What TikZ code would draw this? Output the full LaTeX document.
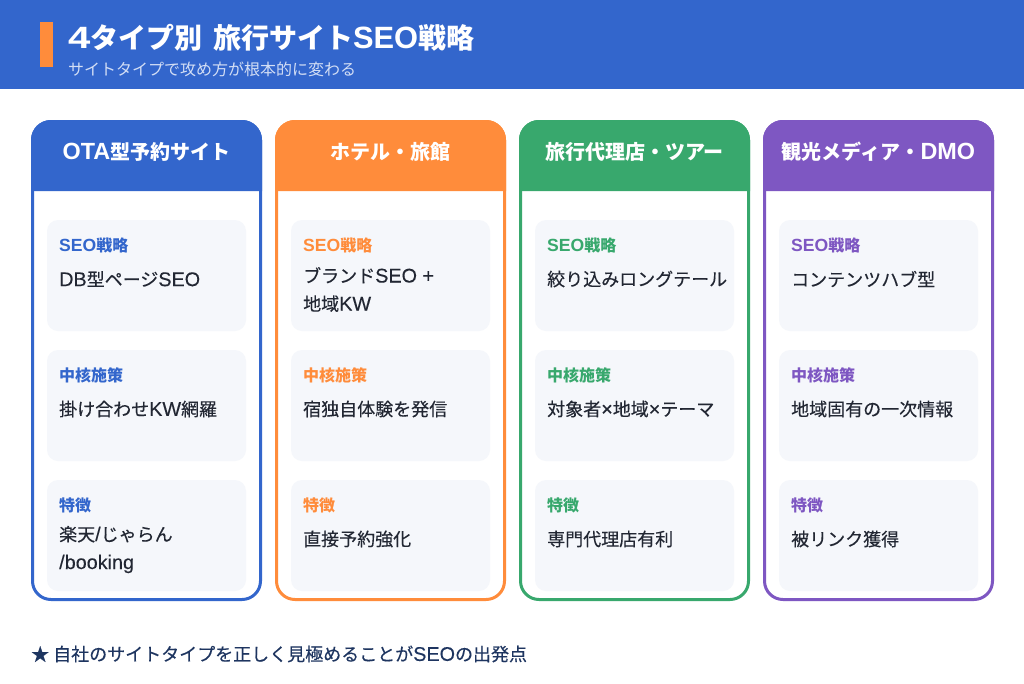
\documentclass[tikz,border=0pt]{standalone}
\usepackage{fontspec}
\setmainfont{Noto Sans CJK JP}
\newfontfamily\lat[Scale=1.1]{Liberation Sans}
\newfontfamily\widelat[Scale=1.1,FakeStretch=1.3]{Liberation Sans}
\newfontfamily\cardlat[Scale=1.17]{Liberation Sans}
\newfontfamily\medcjk[FakeBold=0.3]{Noto Sans CJK JP}
\newfontfamily\medlat[Scale=1.1,FakeBold=0.2]{Liberation Sans}
\definecolor{cblue}{HTML}{3366CC}
\definecolor{corange}{HTML}{FF8C3B}
\definecolor{cgreen}{HTML}{38A86D}
\definecolor{cpurple}{HTML}{7E57C2}
\definecolor{cbox}{HTML}{F5F7FB}
\definecolor{cink}{HTML}{222733}
\definecolor{cnavy}{HTML}{1E3560}
\definecolor{csub}{HTML}{D3DEF5}
\tikzset{
  maintitle/.style = {anchor=west,inner sep=0,text=white,font=\fontsize{28}{34}\selectfont\bfseries},
  subtitle/.style = {anchor=west,inner sep=0,text=csub,font=\fontsize{16}{20}\selectfont},
  cardtitle/.style = {inner sep=0,text=white,font=\fontsize{20}{24}\selectfont\bfseries\let\lat\cardlat},
  celllabel/.style = {anchor=west,inner sep=0,font=\fontsize{16}{20}\selectfont\bfseries},
  cellvalue/.style = {anchor=west,inner sep=0,align=left,text=cink,font=\fontsize{18}{28}\selectfont\medcjk\let\lat\medlat},
  footnote/.style = {anchor=west,inner sep=0,text=cnavy,font=\fontsize{18}{22}\selectfont\medcjk\let\lat\medlat}
}
\newcommand{\la}[1]{{\lat #1}}
% card: name, left edge, colour, title
\newcommand{\card}[4]{
  \draw[#3,fill=white,line width=3pt,rounded corners=18.5] (#2+1.5,121.5) rectangle (#2+229.5,599.5);
  \fill[#3] (#2,191) [rounded corners=20] -- (#2,120) -- (#2+231,120) [sharp corners] -- (#2+231,191) -- cycle;
  \node[cardtitle] (#1) at (#2+115.5,152) {#4};
}
% cell: name, left edge of card, top, colour, label, offset of value, value
\newcommand{\cell}[7]{
  \fill[cbox,rounded corners=11] (#2+16,#3) rectangle (#2+215,#3+111);
  \node[celllabel,text=#4] (#1a) at (#2+28,#3+25) {#5};
  \node[cellvalue] (#1b) at (#2+28,#3+#6) {#7};
}

\begin{document}
\begin{tikzpicture}[x=1pt,y=-1pt]
  \useasboundingbox (0,0) rectangle (1024,683);
  \fill[white] (0,0) rectangle (1024,683);
  \fill[cblue] (0,0) rectangle (1024,89);
  \fill[corange] (40,22) rectangle (53,67);
  \node[maintitle] (title) at (68,38) {{\widelat 4}タイプ別\la{ }\kern2pt 旅行サイト\la{SEO}戦略};
  \node[subtitle] (sub) at (68,69) {サイトタイプで攻め方が根本的に変わる};

  \card{ota}{31}{cblue}{\la{OTA}型予約サイト}
  \cell{otaa}{31}{220}{cblue}{\la{SEO}戦略}{59}{\la{DB}型ページ\la{SEO}}
  \cell{otab}{31}{350}{cblue}{中核施策}{59}{掛け合わせ\la{KW}網羅}
  \cell{otac}{31}{480}{cblue}{特徴}{69.5}{楽天\la{/}じゃらん\\\la{/booking}}

  \card{hotel}{275}{corange}{ホテル・旅館}
  \cell{hotela}{275}{220}{corange}{\la{SEO}戦略}{69.5}{ブランド\la{SEO +}\\地域\la{KW}}
  \cell{hotelb}{275}{350}{corange}{中核施策}{59}{宿独自体験を発信}
  \cell{hotelc}{275}{480}{corange}{特徴}{59}{直接予約強化}

  \card{agency}{519}{cgreen}{旅行代理店・ツアー}
  \cell{agencya}{519}{220}{cgreen}{\la{SEO}戦略}{59}{絞り込みロングテール}
  \cell{agencyb}{519}{350}{cgreen}{中核施策}{59}{対象者\la{×}地域\la{×}テーマ}
  \cell{agencyc}{519}{480}{cgreen}{特徴}{59}{専門代理店有利}

  \card{media}{763}{cpurple}{観光メディア・\la{DMO}}
  \cell{mediaa}{763}{220}{cpurple}{\la{SEO}戦略}{59}{コンテンツハブ型}
  \cell{mediab}{763}{350}{cpurple}{中核施策}{59}{地域固有の一次情報}
  \cell{mediac}{763}{480}{cpurple}{特徴}{59}{被リンク獲得}

  \node[footnote] (note) at (31,654) {★ 自社のサイトタイプを正しく見極めることが\la{SEO}の出発点};
\end{tikzpicture}
\end{document}
